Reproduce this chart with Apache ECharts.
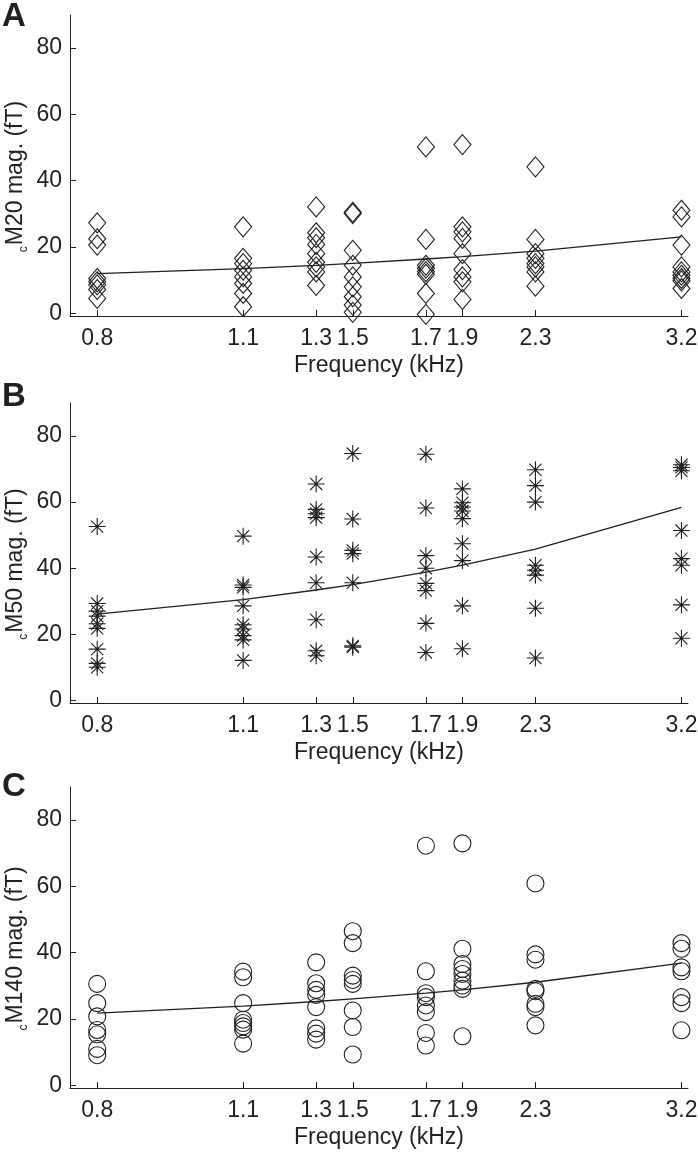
<!DOCTYPE html>
<html><head><meta charset="utf-8">
<script src="https://cdn.jsdelivr.net/npm/echarts@6/dist/echarts.min.js"></script>
<style>html,body{margin:0;padding:0;background:#fff}#c{width:698px;height:1157px}</style>
</head><body><div id="c"></div>
<script>
// Frequencies (kHz) at the tick positions (1/8-octave steps from 0.8 kHz)
const freqs = [0.8, 1.131, 1.345, 1.467, 1.745, 1.903, 2.263, 3.2];
const freqLabels = ['0.8', '1.1', '1.3', '1.5', '1.7', '1.9', '2.3', '3.2'];
const yTicks = [0, 20, 40, 60, 80];

// Panel A: cM20 magnitudes (fT), one list per frequency
const m20 = [
  [27.3, 22.5, 20.6, 10.5, 9.5, 8.6, 7.2, 4.5],
  [26.1, 16.6, 15.0, 13.0, 11.0, 9.0, 6.0, 2.0],
  [32.1, 24.3, 22.8, 20.8, 18.0, 15.4, 14.0, 12.5, 8.4],
  [30.5, 30.1, 19.0, 14.5, 11.0, 8.0, 5.0, 2.5, 0.3],
  [50.2, 22.3, 14.5, 13.6, 12.6, 11.8, 6.0, -0.3],
  [50.9, 26.1, 24.6, 22.6, 18.0, 13.2, 11.0, 9.5, 4.2],
  [44.2, 22.3, 18.0, 16.6, 15.0, 14.0, 12.5, 8.2],
  [31.1, 29.1, 20.6, 14.0, 12.5, 11.5, 10.5, 9.8, 7.5]
];
// Panel B: cM50 magnitudes (fT)
const m50 = [
  [52.6, 29.3, 27.0, 25.5, 23.2, 21.8, 15.5, 11.2, 10.0],
  [49.7, 34.9, 34.2, 28.6, 22.9, 21.6, 19.6, 18.3, 12.1],
  [65.5, 57.8, 56.5, 55.3, 43.4, 35.6, 24.4, 15.0, 13.5],
  [74.7, 54.9, 45.4, 44.4, 35.6, 16.5, 16.1],
  [74.5, 58.2, 43.8, 40.0, 35.4, 33.2, 23.3, 14.5],
  [64.0, 59.8, 58.5, 57.3, 55.0, 47.4, 42.3, 28.6, 15.6],
  [69.8, 65.0, 60.0, 40.9, 39.4, 37.9, 27.9, 12.8],
  [71.3, 70.5, 69.5, 51.4, 42.9, 40.9, 28.9, 18.8]
];
// Panel C: cM140 magnitudes (fT)
const m140 = [
  [30.6, 24.8, 20.8, 16.7, 15.4, 11.0, 9.1],
  [34.3, 32.6, 24.8, 19.8, 18.8, 17.8, 16.8, 12.6],
  [37.1, 30.8, 28.8, 27.3, 23.6, 17.2, 15.6, 13.8],
  [46.5, 42.9, 33.1, 31.8, 30.6, 22.6, 17.6, 9.3],
  [72.3, 34.4, 27.8, 26.6, 24.1, 22.1, 15.8, 12.0],
  [73.0, 41.2, 36.6, 35.1, 33.6, 31.6, 30.1, 29.1, 14.8],
  [60.9, 39.5, 37.9, 29.1, 28.4, 24.6, 23.6, 18.1],
  [42.9, 41.2, 35.6, 34.4, 26.6, 24.8, 16.6]
];
// Fitted lines, read at each frequency
const fitA = [12.0, 13.5, 14.5, 15.1, 16.4, 17.1, 18.8, 23.1];
const fitB = [26.1, 30.5, 33.4, 35.0, 38.8, 40.9, 45.8, 58.4];
const fitC = [21.8, 23.9, 25.3, 26.1, 27.8, 28.8, 31.1, 36.9];

const panelLetters = ['A', 'B', 'C'];
const yNames = ['M20 mag. (fT)', 'M50 mag. (fT)', 'M140 mag. (fT)'];

const INK = '#231f20';
const FONT = 'Liberation Sans';
const FS = 23;
const grids = [
  {left: 70, right: 10, top: 15, height: 301, outerBoundsMode: 'none', containLabel: false},
  {left: 70, right: 10, top: 403, height: 300, outerBoundsMode: 'none', containLabel: false},
  {left: 70, right: 10, top: 787, height: 301, outerBoundsMode: 'none', containLabel: false}
];
const letterTops = [0, 380, 770];

function labelFor(v) {
  let best = 0;
  for (let i = 1; i < freqs.length; i++) {
    if (Math.abs(Math.log(freqs[i] / v)) < Math.abs(Math.log(freqs[best] / v))) best = i;
  }
  return freqLabels[best];
}
function pts(cols) {
  const out = [];
  cols.forEach((vals, i) => vals.forEach(v => out.push([freqs[i], v])));
  return out;
}
function line(vals) { return vals.map((v, i) => [freqs[i], v]); }

const STAR = 'path://M0,9L18,9M9,0L9,18M2.6,2.6L15.4,15.4M15.4,2.6L2.6,15.4';
const markerStyles = [
  {symbol: 'diamond', symbolSize: [17, 20]},
  {symbol: STAR, symbolSize: 17},
  {symbol: 'circle', symbolSize: 17}
];
const dataSets = [m20, m50, m140];
const fits = [fitA, fitB, fitC];

const option = {
  animation: false,
  backgroundColor: '#fff',
  textStyle: {fontFamily: FONT, color: INK},
  title: panelLetters.map((t, i) => ({
    text: t, left: 2, top: letterTops[i], padding: 0,
    textStyle: {fontSize: 33, fontWeight: 'bold', color: INK, fontFamily: FONT}
  })),
  grid: grids,
  xAxis: grids.map((g, i) => ({
    type: 'log', logBase: 2, gridIndex: i, min: 0.75, max: 3.25,
    axisLine: {onZero: false, lineStyle: {color: INK, width: 1}},
    axisTick: {inside: true, length: 6, customValues: freqs, lineStyle: {color: INK, width: 1}},
    axisLabel: {customValues: freqs, formatter: v => labelFor(v), fontSize: FS, color: INK, fontFamily: FONT, margin: 11},
    splitLine: {show: false}, minorTick: {show: false}, minorSplitLine: {show: false},
    name: 'Frequency (kHz)', nameLocation: 'middle', nameGap: 38, nameMoveOverlap: false,
    nameTextStyle: {fontSize: FS, color: INK, fontFamily: FONT}
  })),
  yAxis: grids.map((g, i) => ({
    type: 'value', gridIndex: i, min: -0.8, max: 90,
    axisLine: {show: true, lineStyle: {color: INK, width: 1}},
    axisTick: {show: true, inside: true, length: 6, customValues: yTicks, lineStyle: {color: INK, width: 1}},
    axisLabel: {customValues: yTicks, fontSize: FS, color: INK, fontFamily: FONT, margin: 8},
    splitLine: {show: false},
    name: '{s|c}{m|' + yNames[i] + '}',
    nameLocation: 'middle', nameRotate: 90, nameGap: 43, nameMoveOverlap: false,
    nameTextStyle: {
      color: INK, fontFamily: FONT, padding: [0, 22, 0, 0],
      rich: {
        m: {fontSize: FS, lineHeight: 23, color: INK, fontFamily: FONT},
        s: {fontSize: 12, lineHeight: 12, color: INK, fontFamily: FONT, padding: [17, 1, 0, 0]}
      }
    }
  })),
  series: []
};
dataSets.forEach((d, i) => {
  option.series.push({
    type: 'scatter', xAxisIndex: i, yAxisIndex: i,
    symbol: markerStyles[i].symbol, symbolSize: markerStyles[i].symbolSize,
    itemStyle: {color: 'rgba(0,0,0,0)', borderColor: INK, borderWidth: 1.1, opacity: 1},
    emphasis: {disabled: true},
    data: pts(d), z: 2
  });
  option.series.push({
    type: 'line', xAxisIndex: i, yAxisIndex: i,
    symbol: 'none', lineStyle: {color: INK, width: 1.3},
    emphasis: {disabled: true},
    data: line(fits[i]), z: 3
  });
});
const chart = echarts.init(document.getElementById('c'));
chart.setOption(option);
</script>
</body></html>
